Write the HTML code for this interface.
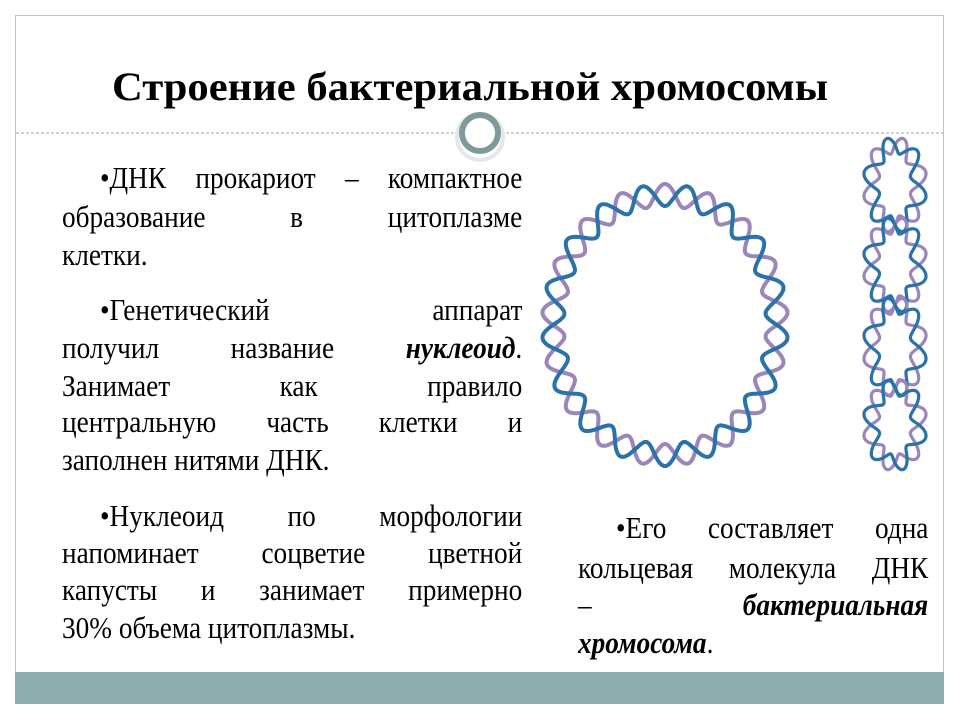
<!DOCTYPE html>
<html><head><meta charset="utf-8">
<style>
html,body{margin:0;padding:0;background:#fff;}
#c{position:relative;width:960px;height:720px;overflow:hidden;font-family:"Liberation Serif","DejaVu Serif",serif;color:#000;}
.frame{position:absolute;left:15px;top:15px;width:929px;height:689px;border:1px solid #b9c6c8;box-sizing:border-box;}
.band{position:absolute;left:15px;top:672px;width:929px;height:32px;background:#8eacad;}
.ln{position:absolute;font-family:"Liberation Serif","DejaVu Serif",serif;font-size:31px;line-height:34px;height:34px;display:flex;justify-content:space-between;white-space:nowrap;transform:scaleX(0.88);transform-origin:0 0;}
.l{justify-content:flex-start;}
i b{font-weight:bold;}
</style></head><body>
<div id="c">
<div class="frame"></div>
<div class="band"></div>
<svg width="960" height="720" style="position:absolute;left:0;top:0">
<text x="470" y="100" text-anchor="middle" font-family="Liberation Serif" font-weight="bold" font-size="40" textLength="716" lengthAdjust="spacingAndGlyphs">Строение бактериальной хромосомы</text>
<line x1="16" y1="133" x2="943" y2="133" stroke="#a9b6b8" stroke-width="1.2" stroke-dasharray="3,2"/>
<circle cx="480" cy="137" r="23" fill="#fff" stroke="#e4e8e8" stroke-width="4"/>
<circle cx="480" cy="133" r="18" fill="#fff" stroke="#7f9a9b" stroke-width="6"/>
<g id="dna" fill="none" stroke-width="4" stroke-linecap="round"></g>
</svg>

<div class="ln" style="left:100px;width:480px;top:161px"><span>•ДНК</span><span>прокариот</span><span>–</span><span>компактное</span></div>
<div class="ln" style="left:62px;width:523px;top:200px"><span>образование</span><span>в</span><span>цитоплазме</span></div>
<div class="ln l" style="left:62px;width:523px;top:238px">клетки.</div>

<div class="ln" style="left:100px;width:480px;top:293px"><span>•Генетический</span><span>аппарат</span></div>
<div class="ln" style="left:62px;width:523px;top:331px"><span>получил</span><span>название</span><span><i><b>нуклеоид</b></i>.</span></div>
<div class="ln" style="left:62px;width:523px;top:369px"><span>Занимает</span><span>как</span><span>правило</span></div>
<div class="ln" style="left:62px;width:523px;top:405px"><span>центральную</span><span>часть</span><span>клетки</span><span>и</span></div>
<div class="ln l" style="left:62px;width:523px;top:443px">заполнен нитями ДНК.</div>

<div class="ln" style="left:100px;width:480px;top:499px"><span>•Нуклеоид</span><span>по</span><span>морфологии</span></div>
<div class="ln" style="left:62px;width:523px;top:536px"><span>напоминает</span><span>соцветие</span><span>цветной</span></div>
<div class="ln" style="left:62px;width:523px;top:573px"><span>капусты</span><span>и</span><span>занимает</span><span>примерно</span></div>
<div class="ln l" style="left:62px;width:523px;top:611px">30% объема цитоплазмы.</div>

<div class="ln" style="left:616px;width:355px;top:511px"><span>•Его</span><span>составляет</span><span>одна</span></div>
<div class="ln" style="left:578px;width:398px;top:551px"><span>кольцевая</span><span>молекула</span><span>ДНК</span></div>
<div class="ln" style="left:578px;width:398px;top:588px"><span>–</span><span><i><b>бактериальная</b></i></span></div>
<div class="ln l" style="left:578px;width:398px;top:626px"><span><i><b>хромосома</b></i>.</span></div>
</div>
<script>
(function(){
var g=document.getElementById('dna');
function loop(cx,cy,rx,ry,n,A,w){
  var p1='',p2='';
  for(var i=0;i<=720;i++){
    var t=i/720*2*Math.PI;
    var s=Math.sin(n*t)*A;
    var x1=cx+(rx+s)*Math.cos(t),y1=cy+(ry+s)*Math.sin(t);
    var x2=cx+(rx-s)*Math.cos(t),y2=cy+(ry-s)*Math.sin(t);
    p1+=(i?'L':'M')+x1.toFixed(1)+' '+y1.toFixed(1);
    p2+=(i?'L':'M')+x2.toFixed(1)+' '+y2.toFixed(1);
  }
  g.innerHTML+='<path d="'+p2+'" stroke="#9b86bb" stroke-width="'+w+'"/><path d="'+p1+'" stroke="#2a72a8" stroke-width="'+w+'"/>';
}
loop(665,325,112,130,17,11,4);
loop(895,185,24,40,6,8,3.2);
loop(895,265,24,40,6,8,3.2);
loop(895,347,24,42,6,8,3.2);
loop(895,425,24,38,6,8,3.2);
})();
</script>
</body></html>
